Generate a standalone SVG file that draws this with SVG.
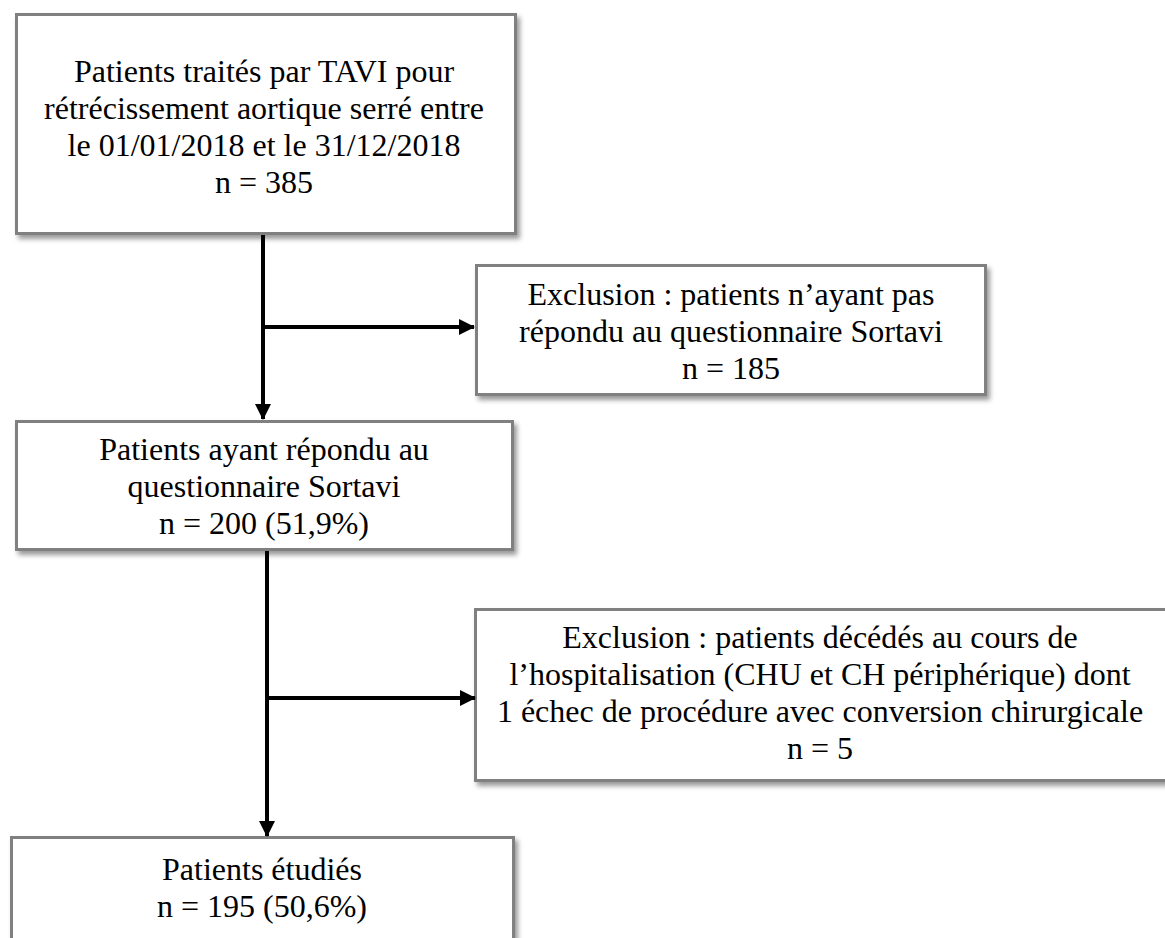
<svg xmlns="http://www.w3.org/2000/svg" width="1165" height="938" viewBox="0 0 1165 938">
<style>
.box{fill:#fff;stroke:#808080;stroke-width:3;filter:url(#sh)}
.c{stroke:#000;stroke-width:4;fill:none}
</style>
<defs>
<filter id="sh" x="-10%" y="-10%" width="120%" height="130%">
<feDropShadow dx="3" dy="4" stdDeviation="2.5" flood-color="#000" flood-opacity="0.4"/>
</filter>
<marker id="ah" markerUnits="userSpaceOnUse" markerWidth="16" markerHeight="16" viewBox="0 0 16 16" refX="15" refY="8" orient="auto">
<path d="M0,0 L16,8 L0,16 Z" fill="#000"/>
</marker>
</defs>
<rect width="1165" height="938" fill="#fff"/>
<g font-family="Liberation Serif, Times New Roman, Tinos, Noto Serif, Nimbus Roman, FreeSerif, DejaVu Serif, Times, serif" font-size="32" text-anchor="middle" fill="#000">
<g id="n1">
<rect class="box" x="16.5" y="14.5" width="499" height="219"/>
<text x="264" y="82">Patients traités par TAVI pour</text>
<text x="264" y="119">rétrécissement aortique serré entre</text>
<text x="264" y="156">le 01/01/2018 et le 31/12/2018</text>
<text x="264" y="193">n = 385</text>
</g>
<g id="n2">
<rect class="box" x="476.5" y="265.5" width="509" height="129"/>
<text x="731" y="305">Exclusion : patients n’ayant pas</text>
<text x="731" y="342">répondu au questionnaire Sortavi</text>
<text x="731" y="379">n = 185</text>
</g>
<g id="n3">
<rect class="box" x="16.5" y="421.5" width="496" height="128"/>
<text x="264" y="460">Patients ayant répondu au</text>
<text x="264" y="497">questionnaire Sortavi</text>
<text x="264" y="534">n = 200 (51,9%)</text>
</g>
<g id="n4">
<rect class="box" x="475.5" y="609.5" width="700" height="171"/>
<text x="820" y="648">Exclusion : patients décédés au cours de</text>
<text x="820" y="685">l’hospitalisation (CHU et CH périphérique) dont</text>
<text x="820" y="722">1 échec de procédure avec conversion chirurgicale</text>
<text x="820" y="759">n = 5</text>
</g>
<g id="n5">
<rect class="box" x="11.5" y="837.5" width="502" height="140"/>
<text x="262" y="880">Patients étudiés</text>
<text x="262" y="917">n = 195 (50,6%)</text>
</g>
</g>
<g id="connectors">
<line class="c" x1="263" y1="235" x2="263" y2="419" marker-end="url(#ah)"/>
<line class="c" x1="263" y1="327" x2="474" y2="327" marker-end="url(#ah)"/>
<line class="c" x1="267" y1="551" x2="267" y2="836" marker-end="url(#ah)"/>
<line class="c" x1="267" y1="698" x2="475" y2="698" marker-end="url(#ah)"/>
</g>
</svg>
